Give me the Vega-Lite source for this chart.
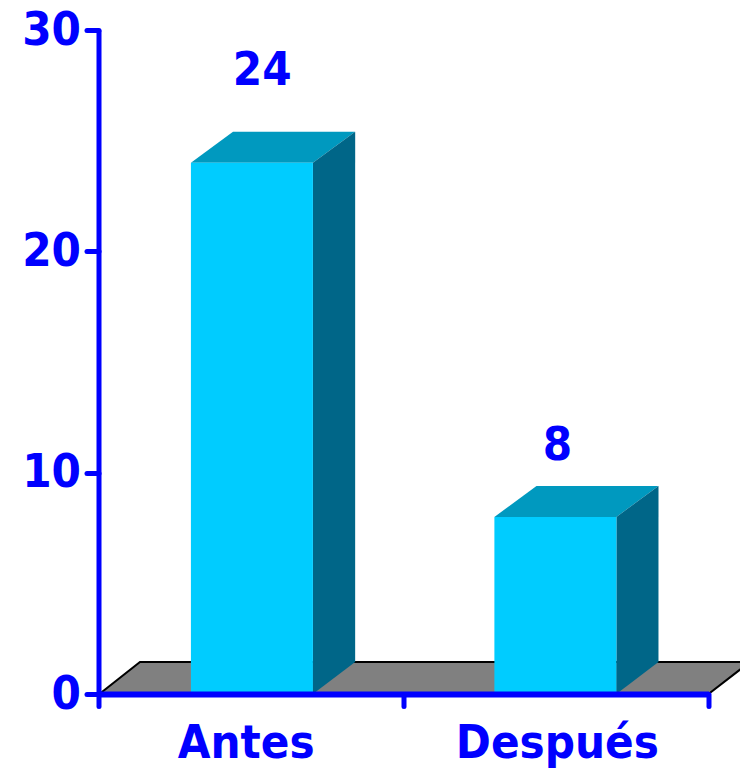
{
"$schema":"https://vega.github.io/schema/vega-lite/v6.json",
"autosize":{"type":"none"},
"padding":{"left":98.5,"top":30,"right":31.5,"bottom":74},
"width":610,"height":664,
"background":"white",
"config":{"view":{"stroke":null}},
"datasets":{
"bars":[{"cat":"Antes","x0":0.303,"x1":0.703,"value":24},{"cat":"Después","x0":1.298,"x1":1.698,"value":8}],
"faces":[
{"id":"floor","x":0.003,"y":0,"y2":0},{"id":"floor","x":0.136,"y":0,"y2":1.45},{"id":"floor","x":2,"y":0,"y2":1.45},{"id":"floor","x":2.136,"y":1.45,"y2":1.45},
{"id":"top1","x":0.303,"y":24,"y2":24},{"id":"top1","x":0.441,"y":24,"y2":25.4},{"id":"top1","x":0.703,"y":24,"y2":25.4},{"id":"top1","x":0.8415,"y":25.4,"y2":25.4},
{"id":"top2","x":1.298,"y":8,"y2":8},{"id":"top2","x":1.436,"y":8,"y2":9.4},{"id":"top2","x":1.698,"y":8,"y2":9.4},{"id":"top2","x":1.836,"y":9.4,"y2":9.4},
{"id":"side1","x":0.703,"y":0,"y2":24},{"id":"side1","x":0.8415,"y":1.45,"y2":25.4},
{"id":"side2","x":1.698,"y":0,"y2":8},{"id":"side2","x":1.836,"y":1.45,"y2":9.4}
],
"labels":[{"t":"24","x":0.5365,"y":28.15},{"t":"8","x":1.5045,"y":11.2},{"t":"Antes","x":0.484,"y":-2.27},{"t":"Después","x":1.5045,"y":-2.27}]
},
"layer":[
{"data":{"name":"faces"},"transform":[{"filter":"datum.id==='floor'"}],
 "mark":{"type":"area","orient":"vertical","fill":"#808080","stroke":"black","strokeWidth":2,"clip":false},
 "encoding":{"x":{"field":"x","type":"quantitative","scale":{"domain":[0,2],"nice":false,"zero":false},
   "axis":{"values":[0,1,2],"labels":false,"title":null,"grid":false,"tickSize":12,"tickWidth":5,"tickColor":"#0000FF","tickCap":"round","domainColor":"#0000FF","domainWidth":6,"zindex":1}},
  "y":{"field":"y","type":"quantitative","scale":{"domain":[0,30],"nice":false},
   "axis":{"values":[0,10,20,30],"title":null,"grid":false,"tickSize":12,"tickWidth":5,"tickColor":"#0000FF","tickCap":"round","domainColor":"#0000FF","domainWidth":5,"labelColor":"#0000FF","labelFont":"DejaVu Sans Condensed","labelFontWeight":"bold","labelFontSize":47,"labelPadding":6,"zindex":1}},
  "y2":{"field":"y2"}}},
{"data":{"name":"faces"},"transform":[{"filter":"datum.id==='top1'||datum.id==='top2'"}],
 "mark":{"type":"area","orient":"vertical","fill":"#0099BF"},
 "encoding":{"x":{"field":"x","type":"quantitative"},"y":{"field":"y","type":"quantitative"},"y2":{"field":"y2"},"detail":{"field":"id"}}},
{"data":{"name":"faces"},"transform":[{"filter":"datum.id==='side1'||datum.id==='side2'"}],
 "mark":{"type":"area","orient":"vertical","fill":"#006688"},
 "encoding":{"x":{"field":"x","type":"quantitative"},"y":{"field":"y","type":"quantitative"},"y2":{"field":"y2"},"detail":{"field":"id"}}},
{"data":{"name":"bars"},
 "mark":{"type":"rect","fill":"#00CCFF"},
 "encoding":{"x":{"field":"x0","type":"quantitative"},"x2":{"field":"x1"},"y":{"field":"value","type":"quantitative"},"y2":{"datum":0}}},
{"data":{"name":"labels"},
 "mark":{"type":"text","color":"#0000FF","font":"DejaVu Sans Condensed","fontWeight":"bold","fontSize":47,"align":"center","baseline":"middle","clip":false},
 "encoding":{"x":{"field":"x","type":"quantitative"},"y":{"field":"y","type":"quantitative"},"text":{"field":"t"}}}
]
}
